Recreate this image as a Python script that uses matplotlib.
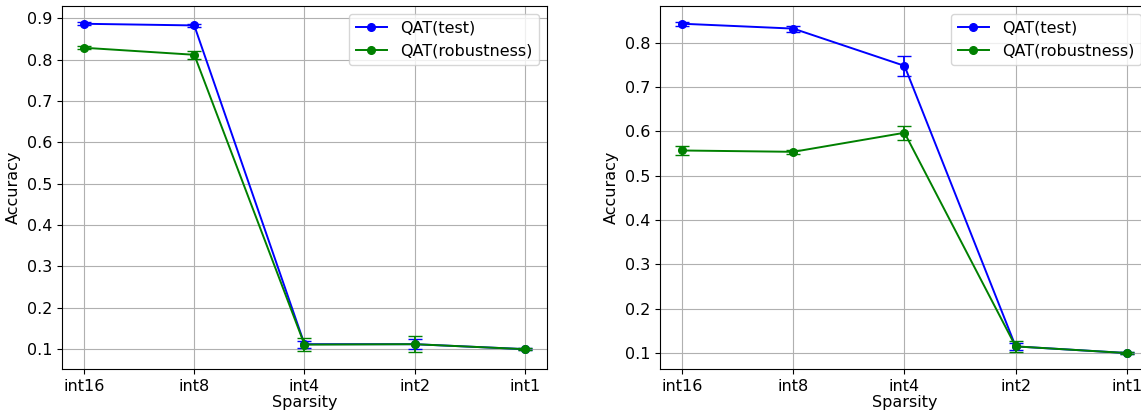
import matplotlib
matplotlib.use("Agg")
import matplotlib.pyplot as plt

categories = ["int16", "int8", "int4", "int2", "int1"]

left_test = [0.887, 0.883, 0.112, 0.112, 0.100]
left_test_err = [0.004, 0.004, 0.008, 0.012, 0.002]
left_rob = [0.829, 0.812, 0.111, 0.112, 0.100]
left_rob_err = [0.004, 0.010, 0.015, 0.020, 0.002]

right_test = [0.843, 0.832, 0.748, 0.115, 0.100]
right_test_err = [0.004, 0.007, 0.022, 0.008, 0.002]
right_rob = [0.557, 0.554, 0.597, 0.115, 0.100]
right_rob_err = [0.010, 0.005, 0.016, 0.013, 0.002]

plt.rcParams['font.size'] = 11.5
fig = plt.figure(figsize=(11.41, 4.13), dpi=100)
W, H = 1141, 413
ax1 = fig.add_axes([62/W, 1-369/H, (547-62)/W, (369-6)/H])
ax2 = fig.add_axes([660/W, 1-369/H, (1149-660)/W, (369-6)/H])

for ax, t, te, r, re_, ylim in [
    (ax1, left_test, left_test_err, left_rob, left_rob_err, (0.052, 0.930)),
    (ax2, right_test, right_test_err, right_rob, right_rob_err, (0.064, 0.883)),
]:
    x = list(range(len(categories)))
    ax.errorbar(x, t, yerr=te, color='blue', fmt='none', capsize=5, lw=1.3)
    ax.plot(x, t, color='blue', marker='o', ms=5.5, lw=1.4, label='QAT(test)')
    ax.errorbar(x, r, yerr=re_, color='green', fmt='none', capsize=5, lw=1.3)
    ax.plot(x, r, color='green', marker='o', ms=5.5, lw=1.4, label='QAT(robustness)')
    ax.set_xticks(x)
    ax.set_xticklabels(categories)
    ax.set_xlabel('Sparsity', labelpad=1)
    ax.set_ylabel('Accuracy')
    ax.set_ylim(*ylim)
    ax.set_xlim(-0.2, 4.2)
    ax.grid(True)
    ax.legend(loc='upper right')

fig.savefig('out.png', dpi=100)
